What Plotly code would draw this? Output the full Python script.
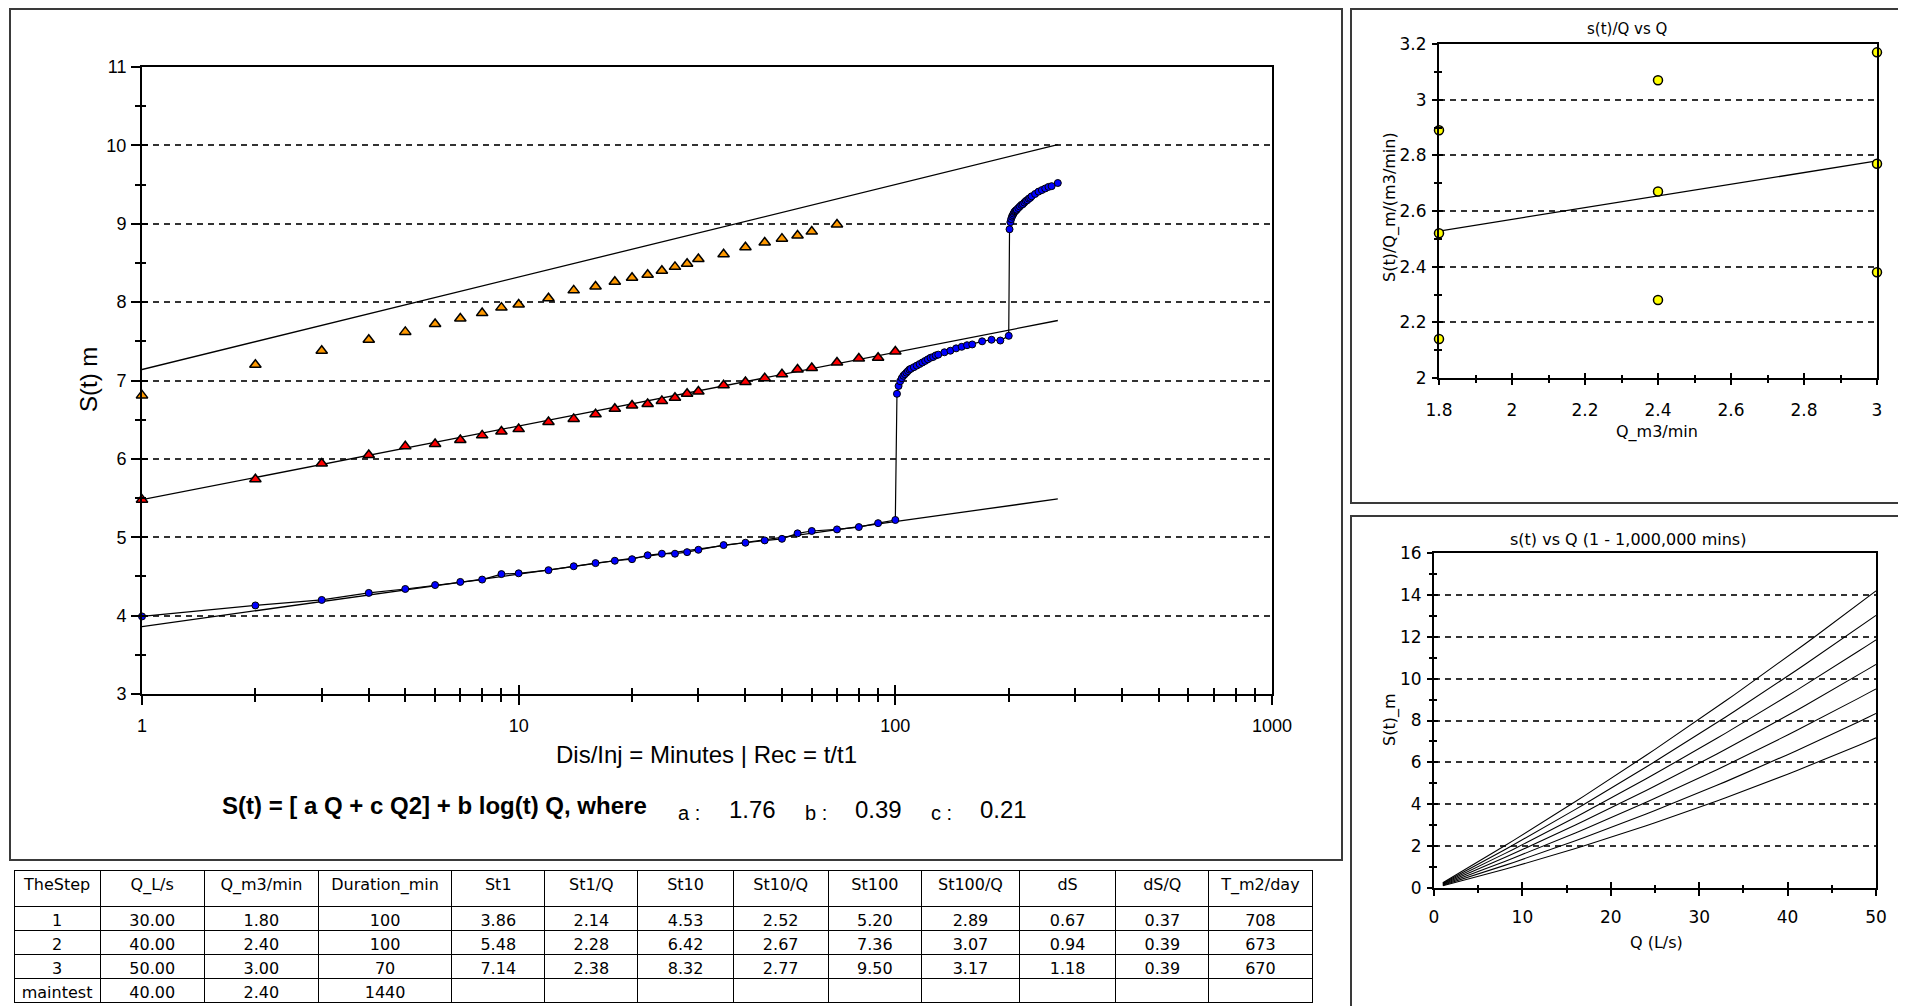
import math
import plotly.graph_objects as go

# The page body has an 8px margin, so the figure is drawn from page pixel (8, 8).
OFF = 8
W, H = 1906 - OFF, 1006 - OFF
def fx(p): return (p - OFF) / W
def fy(p): return 1 - (p - OFF) / H

# ---------------- data ----------------
step_names = ["1", "2", "3", "maintest"]
Q_Ls = [30.00, 40.00, 50.00, 40.00]
Q_m3min = [1.80, 2.40, 3.00, 2.40]
duration_min = [100, 100, 70, 1440]
St1 = [3.86, 5.48, 7.14]
St1_Q = [2.14, 2.28, 2.38]
St10 = [4.53, 6.42, 8.32]
St10_Q = [2.52, 2.67, 2.77]
St100 = [5.20, 7.36, 9.50]
St100_Q = [2.89, 3.07, 3.17]
dS = [0.67, 0.94, 1.18]
dS_Q = [0.37, 0.39, 0.39]
T_m2day = [708, 673, 670]

a_coef, b_coef, c_coef = 1.76, 0.39, 0.21

# step-1 observation times (min) and drawdowns
t_step1 = [1, 2, 3, 4, 5, 6, 7, 8, 9, 10, 12, 14, 16, 18, 20, 22, 24, 26, 28, 30,
           35, 40, 45, 50, 55, 60, 70, 80, 90, 100]
s_step1 = [3.99, 4.13, 4.20, 4.29, 4.34, 4.39, 4.43, 4.46, 4.53, 4.54, 4.58, 4.63, 4.67, 4.70,
           4.72, 4.77, 4.79, 4.79, 4.81, 4.84, 4.90, 4.93, 4.96, 4.98, 5.05, 5.08, 5.10, 5.13,
           5.18, 5.22]
# step-2 (cumulative time)
t_step2 = [101, 102, 103, 104, 105, 106, 107, 108, 109, 110, 112, 114, 116, 118, 120, 122,
           124, 126, 128, 130, 135, 140, 145, 150, 155, 160, 170, 180, 190, 200]
s_step2 = [6.83, 6.93, 6.99, 7.03, 7.06, 7.08, 7.10, 7.12, 7.14, 7.15, 7.17, 7.19, 7.21, 7.23,
           7.25, 7.27, 7.29, 7.30, 7.32, 7.33, 7.36, 7.38, 7.41, 7.43, 7.45, 7.46, 7.50, 7.52,
           7.51, 7.57]
# step-3 (cumulative time)
t_step3 = [201, 202, 203, 204, 205, 206, 207, 208, 209, 210, 212, 214, 216, 218, 220, 222,
           224, 226, 228, 230, 235, 240, 245, 250, 255, 260, 270]
s_step3 = [8.93, 9.02, 9.06, 9.09, 9.11, 9.13, 9.15, 9.16, 9.17, 9.18, 9.20, 9.22, 9.24, 9.25,
           9.27, 9.29, 9.30, 9.32, 9.33, 9.35, 9.38, 9.41, 9.43, 9.45, 9.47, 9.48, 9.52]

# step 2 and step 3 plotted on their own elapsed time
t_step2_rel = [1, 2, 3, 4, 5, 6, 7, 8, 9, 10, 12, 14, 16, 18, 20, 22, 24, 26, 28, 30,
               35, 40, 45, 50, 55, 60, 70, 80, 90, 100]
s_step2_rel = [5.48, 5.74, 5.94, 6.05, 6.16, 6.19, 6.24, 6.30, 6.35, 6.38, 6.47, 6.51, 6.57, 6.64,
               6.68, 6.70, 6.74, 6.78, 6.83, 6.86, 6.94, 6.98, 7.03, 7.08, 7.14, 7.16, 7.23, 7.28,
               7.29, 7.37]
t_step3_rel = [1, 2, 3, 4, 5, 6, 7, 8, 9, 10, 12, 14, 16, 18, 20, 22, 24, 26, 28, 30,
               35, 40, 45, 50, 55, 60, 70]
s_step3_rel = [6.81, 7.20, 7.38, 7.52, 7.62, 7.72, 7.79, 7.86, 7.93, 7.97, 8.05, 8.15, 8.20, 8.26,
               8.31, 8.35, 8.40, 8.45, 8.49, 8.55, 8.61, 8.70, 8.76, 8.81, 8.85, 8.90, 8.99]

# s(t) vs Q curves
t_curves = [1, 10, 100, 1000, 10000, 100000, 1000000]
Q_curve_Ls = list(range(1, 51))

main_x_ticks = [1, 10, 100, 1000]
header_labels = ["TheStep", "Q_L/s", "Q_m3/min", "Duration_min", "St1", "St1/Q", "St10",
                 "St10/Q", "St100", "St100/Q", "dS", "dS/Q", "T_m2/day"]

MAINF = "Liberation Sans, Arial, sans-serif"
SMALLF = "DejaVu Sans, Verdana, sans-serif"
GRID = "#333333"
GDASH = "6px,5px"

fig = go.Figure()

# ---------------- main chart ----------------
t_end = t_step3[-1]
for s1, ds in zip(St1, dS):
    fig.add_trace(go.Scatter(
        x=[1, t_end], y=[s1 + ds * math.log10(1), s1 + ds * math.log10(t_end)],
        mode="lines", line=dict(color="black", width=1.3),
        xaxis="x", yaxis="y", hoverinfo="skip", showlegend=False))

fig.add_trace(go.Scatter(
    x=t_step1 + t_step2 + t_step3, y=s_step1 + s_step2 + s_step3,
    mode="lines+markers", line=dict(color="black", width=1.2),
    marker=dict(symbol="circle", size=7, color="#0000ff", line=dict(color="black", width=1)),
    xaxis="x", yaxis="y", showlegend=False, cliponaxis=False))

fig.add_trace(go.Scatter(
    x=t_step2_rel, y=s_step2_rel, mode="markers",
    marker=dict(symbol="triangle-up", size=10, color="#ff0000", line=dict(color="black", width=1.5)),
    xaxis="x", yaxis="y", showlegend=False, cliponaxis=False))

fig.add_trace(go.Scatter(
    x=t_step3_rel, y=s_step3_rel, mode="markers",
    marker=dict(symbol="triangle-up", size=10, color="#ff9900", line=dict(color="black", width=1.5)),
    xaxis="x", yaxis="y", showlegend=False, cliponaxis=False))

# ---------------- s(t)/Q vs Q ----------------
Q3 = Q_m3min[:3]
fig.add_trace(go.Scatter(
    x=[Q3[0], Q3[-1]],
    y=[a_coef + b_coef * math.log10(10) + c_coef * Q3[0],
       a_coef + b_coef * math.log10(10) + c_coef * Q3[-1]],
    mode="lines", line=dict(color="black", width=1.3),
    xaxis="x2", yaxis="y2", hoverinfo="skip", showlegend=False))
fig.add_trace(go.Scatter(
    x=Q3 * 3, y=St1_Q + St10_Q + St100_Q, mode="markers",
    marker=dict(symbol="circle", size=9, color="#ffff00", line=dict(color="black", width=1.5)),
    xaxis="x2", yaxis="y2", showlegend=False, cliponaxis=False))

# ---------------- s(t) vs Q ----------------
for t in t_curves:
    ys = []
    for q in Q_curve_Ls:
        qm = q * 0.06
        ys.append(a_coef * qm + c_coef * qm ** 2 + b_coef * math.log10(t) * qm)
    fig.add_trace(go.Scatter(
        x=Q_curve_Ls, y=ys, mode="lines", line=dict(color="black", width=1.1),
        xaxis="x3", yaxis="y3", hoverinfo="skip", showlegend=False))

# dummy traces for overlay (inside) tick axes
for xa, ya in (("x4", "y"), ("x", "y4"), ("x5", "y2"), ("x2", "y5"), ("x6", "y3"), ("x3", "y6")):
    fig.add_trace(go.Scatter(x=[None], y=[None], xaxis=xa, yaxis=ya,
                             showlegend=False, hoverinfo="skip"))

# ---------------- table ----------------
def f2(v): return f"{v:.2f}"
cells = [
    step_names,
    [f2(v) for v in Q_Ls],
    [f2(v) for v in Q_m3min],
    [str(v) for v in duration_min],
    [f2(v) for v in St1] + [""],
    [f2(v) for v in St1_Q] + [""],
    [f2(v) for v in St10] + [""],
    [f2(v) for v in St10_Q] + [""],
    [f2(v) for v in St100] + [""],
    [f2(v) for v in St100_Q] + [""],
    [f2(v) for v in dS] + [""],
    [f2(v) for v in dS_Q] + [""],
    [str(v) for v in T_m2day] + [""],
]
fig.add_trace(go.Table(
    domain=dict(x=[fx(14), fx(1312)], y=[0, fy(870)]),
    columnwidth=[86, 104, 114, 133, 93, 93, 95, 95, 93, 98, 96, 93, 103],
    header=dict(values=header_labels, height=36, align="center",
                line=dict(color="black", width=1), fill=dict(color="white"),
                font=dict(family=SMALLF, size=16, color="black")),
    cells=dict(values=cells, height=24, align="center",
               line=dict(color="black", width=1), fill=dict(color="white"),
               font=dict(family=SMALLF, size=16, color="black")),
))

# ---------------- axes ----------------
def tickfont(f, s): return dict(family=f, size=s, color="black")

minor_log = [m * d for d in (1, 10, 100) for m in range(2, 10)]

layout_axes = dict(
    xaxis=dict(type="log", range=[0, 3], domain=[fx(142), fx(1272)], anchor="y",
               tickmode="array", tickvals=main_x_ticks, ticktext=[str(v) for v in main_x_ticks],
               ticks="outside", ticklen=9, tickwidth=1.5, tickcolor="black",
               minor=dict(tickmode="array", tickvals=minor_log, ticks="outside", ticklen=6,
                          tickwidth=1.5, tickcolor="black", showgrid=False),
               showline=True, linecolor="black", linewidth=2, mirror=True, showgrid=False,
               zeroline=False, tickfont=tickfont(MAINF, 18), ticklabelstandoff=5),
    yaxis=dict(range=[3, 11], domain=[fy(694), fy(67)], anchor="x",
               tickmode="linear", tick0=3, dtick=1,
               ticks="outside", ticklen=9, tickwidth=1.5, tickcolor="black",
               minor=dict(dtick=0.5, ticks="outside", ticklen=5, tickwidth=1.5, tickcolor="black",
                          showgrid=False),
               showline=True, linecolor="black", linewidth=2, mirror=True,
               showgrid=True, gridcolor=GRID, gridwidth=1.8, griddash=GDASH,
               zeroline=False, tickfont=tickfont(MAINF, 18), ticklabelstandoff=1),
    xaxis4=dict(type="log", range=[0, 3], overlaying="x", anchor="y",
                tickmode="array", tickvals=main_x_ticks, ticks="inside", ticklen=9,
                tickwidth=1.5, tickcolor="black", showticklabels=False,
                minor=dict(tickmode="array", tickvals=minor_log, ticks="inside", ticklen=6,
                           tickwidth=1.5, tickcolor="black", showgrid=False),
                showline=False, showgrid=False, zeroline=False),
    yaxis4=dict(range=[3, 11], overlaying="y", anchor="x", tickmode="linear", tick0=3, dtick=1,
                ticks="inside", ticklen=6, tickwidth=1.5, tickcolor="black", showticklabels=False,
                minor=dict(dtick=0.5, ticks="inside", ticklen=4, tickwidth=1.5, tickcolor="black",
                           showgrid=False),
                showline=False, showgrid=False, zeroline=False),
    # top right
    xaxis2=dict(range=[1.8, 3.0], domain=[fx(1439), fx(1877)], anchor="y2",
                tickmode="linear", tick0=1.8, dtick=0.2, ticks="outside", ticklen=5, tickwidth=1.5,
                tickcolor="black",
                minor=dict(dtick=0.1, ticks="outside", ticklen=3, tickwidth=1.5, tickcolor="black",
                           showgrid=False),
                showline=True, linecolor="black", linewidth=2, mirror=True, showgrid=False,
                zeroline=False, tickfont=tickfont(SMALLF, 17), ticklabelstandoff=11),
    yaxis2=dict(range=[2, 3.2], domain=[fy(378), fy(44)], anchor="x2",
                tickmode="linear", tick0=2, dtick=0.2, ticks="outside", ticklen=5, tickwidth=1.5,
                tickcolor="black",
                minor=dict(dtick=0.1, ticks="outside", ticklen=3, tickwidth=1.5, tickcolor="black",
                           showgrid=False),
                showline=True, linecolor="black", linewidth=2, mirror=True,
                showgrid=True, gridcolor=GRID, gridwidth=1.8, griddash=GDASH,
                zeroline=False, tickfont=tickfont(SMALLF, 17), ticklabelstandoff=2),
    xaxis5=dict(range=[1.8, 3.0], overlaying="x2", anchor="y2",
                tickmode="linear", tick0=1.8, dtick=0.2, ticks="inside", ticklen=5, tickwidth=1.5,
                tickcolor="black", showticklabels=False,
                minor=dict(dtick=0.1, ticks="inside", ticklen=3, tickwidth=1.5, tickcolor="black",
                           showgrid=False),
                showline=False, showgrid=False, zeroline=False),
    yaxis5=dict(range=[2, 3.2], overlaying="y2", anchor="x2",
                tickmode="linear", tick0=2, dtick=0.2, ticks="inside", ticklen=4, tickwidth=1.5,
                tickcolor="black", showticklabels=False,
                minor=dict(dtick=0.1, ticks="inside", ticklen=3, tickwidth=1.5, tickcolor="black",
                           showgrid=False),
                showline=False, showgrid=False, zeroline=False),
    # bottom right
    xaxis3=dict(range=[0, 50], domain=[fx(1434), fx(1876)], anchor="y3",
                tickmode="linear", tick0=0, dtick=10, ticks="outside", ticklen=6, tickwidth=1.5,
                tickcolor="black",
                minor=dict(dtick=5, ticks="outside", ticklen=3, tickwidth=1.5, tickcolor="black",
                           showgrid=False),
                showline=True, linecolor="black", linewidth=2, mirror=True, showgrid=False,
                zeroline=False, tickfont=tickfont(SMALLF, 17), ticklabelstandoff=7),
    yaxis3=dict(range=[0, 16], domain=[fy(888), fy(553)], anchor="x3",
                tickmode="linear", tick0=0, dtick=2, ticks="outside", ticklen=5, tickwidth=1.5,
                tickcolor="black",
                minor=dict(dtick=1, ticks="outside", ticklen=3, tickwidth=1.5, tickcolor="black",
                           showgrid=False),
                showline=True, linecolor="black", linewidth=2, mirror=True,
                showgrid=True, gridcolor=GRID, gridwidth=1.8, griddash=GDASH,
                zeroline=False, tickfont=tickfont(SMALLF, 17), ticklabelstandoff=2),
    xaxis6=dict(range=[0, 50], overlaying="x3", anchor="y3",
                tickmode="linear", tick0=0, dtick=10, ticks="inside", ticklen=6, tickwidth=1.5,
                tickcolor="black", showticklabels=False,
                minor=dict(dtick=5, ticks="inside", ticklen=3, tickwidth=1.5, tickcolor="black",
                           showgrid=False),
                showline=False, showgrid=False, zeroline=False),
    yaxis6=dict(range=[0, 16], overlaying="y3", anchor="x3",
                tickmode="linear", tick0=0, dtick=2, ticks="inside", ticklen=4, tickwidth=1.5,
                tickcolor="black", showticklabels=False,
                minor=dict(dtick=1, ticks="inside", ticklen=3, tickwidth=1.5, tickcolor="black",
                           showgrid=False),
                showline=False, showgrid=False, zeroline=False),
)
for k in layout_axes:
    layout_axes[k]["automargin"] = False

def ann(text, x, y, size, family, angle=0, bold=False):
    if bold:
        text = f"<b>{text}</b>"
    return dict(text=text, x=fx(x), y=fy(y), xref="paper", yref="paper",
                xanchor="center", yanchor="middle", showarrow=False, textangle=angle,
                font=dict(family=family, size=size, color="black"))

annotations = [
    ann("S(t) m", 89, 380, 24, MAINF, angle=-90),
    ann("Dis/Inj = Minutes | Rec = t/t1", 706, 754, 24, MAINF),
    ann("S(t) = [ a Q + c Q2] + b log(t) Q, where", 434, 805, 24, MAINF, bold=True),
    ann("a :", 689, 813, 20, MAINF),
    ann(f"{a_coef:.2f}", 752, 809, 24, MAINF),
    ann("b :", 816, 813, 20, MAINF),
    ann(f"{b_coef:.2f}", 878, 809, 24, MAINF),
    ann("c :", 941, 813, 20, MAINF),
    ann(f"{c_coef:.2f}", 1003, 809, 24, MAINF),
    ann("s(t)/Q vs Q", 1627, 29, 15, SMALLF),
    ann("Q_m3/min", 1657, 432, 16, SMALLF),
    ann("S(t)/Q_m/(m3/min)", 1390, 207, 16, SMALLF, angle=-90),
    ann("s(t) vs Q (1 - 1,000,000 mins)", 1628, 539, 16, SMALLF),
    ann("Q (L/s)", 1656, 942, 16, SMALLF),
    ann("S(t)_m", 1390, 720, 16, SMALLF, angle=-90),
]

def panel(x0, y0, x1, y1):
    return dict(type="rect", xref="paper", yref="paper", x0=fx(x0), x1=fx(x1),
                y0=fy(y1), y1=fy(y0), line=dict(color="#3a3a3a", width=2),
                fillcolor="rgba(0,0,0,0)", layer="above")

shapes = [
    panel(10, 9, 1342, 860),
    panel(1351, 9, 1904, 503),
    panel(1351, 516, 1904, 1012),
]

fig.update_layout(
    width=W, height=H, margin=dict(l=0, r=0, t=0, b=0, pad=0, autoexpand=False),
    paper_bgcolor="white", plot_bgcolor="white", showlegend=False,
    annotations=annotations, shapes=shapes, **layout_axes,
)

fig.write_html("out.html")
